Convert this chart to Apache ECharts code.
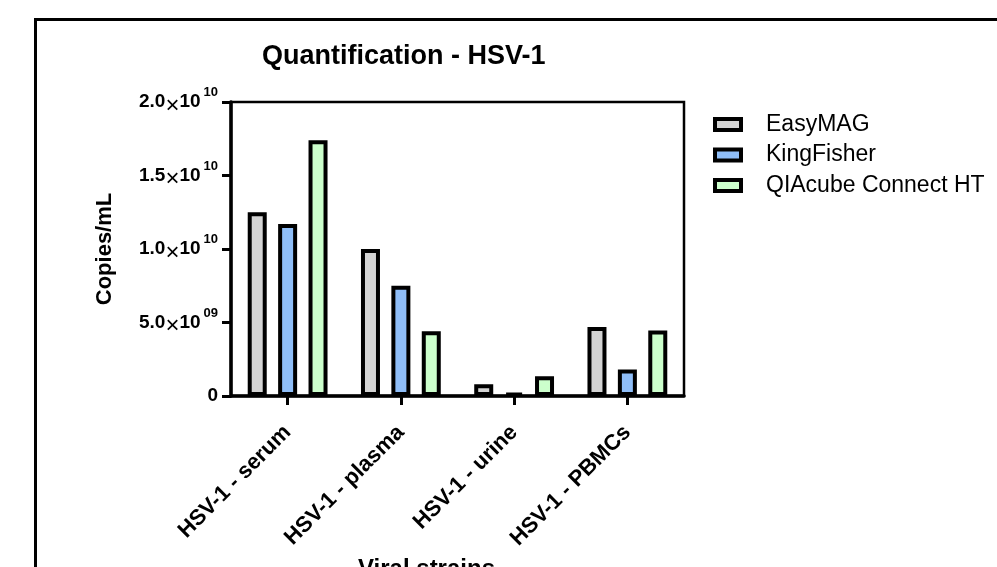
<!DOCTYPE html>
<html>
<head>
<meta charset="utf-8">
<script src="https://cdn.jsdelivr.net/npm/echarts@6/dist/echarts.min.js"></script>
<style>
html,body{margin:0;padding:0;background:#fff;}
#chart{width:997px;height:567px;}
</style>
</head>
<body>
<div id="chart"></div>
<script>
var categories = ["HSV-1 - serum", "HSV-1 - plasma", "HSV-1 - urine", "HSV-1 - PBMCs"];
var easyMAG = [1.25e10, 1.0e10, 8.0e8, 4.7e9];
var kingFisher = [1.17e10, 7.5e9, 2.0e8, 1.8e9];
var qiacube = [1.74e10, 4.4e9, 1.35e9, 4.45e9];
var seriesNames = ["EasyMAG", "KingFisher", "QIAcube Connect HT"];
var yTicks = [0, 5e9, 1e10, 1.5e10, 2e10];

var FONT = "Liberation Sans";
var chart = echarts.init(document.getElementById('chart'), null, {renderer: 'canvas'});

function fmtY(v) {
  if (v === 0) return '{m|0}';
  var e = Math.floor(Math.log10(v) + 1e-9);
  var m = v / Math.pow(10, e);
  var es = (e < 10 ? '0' : '') + e;
  return '{m|' + m.toFixed(1) + '}{x|×}{m|10}{s|' + es + '}';
}

var barStyle = function (color) {
  return {color: color, borderColor: '#000', borderWidth: 4};
};

chart.setOption({
  animation: false,
  backgroundColor: '#fff',
  title: {
    text: 'Quantification - HSV-1',
    left: 257, top: 38,
    textStyle: {fontFamily: FONT, fontWeight: 'bold', fontSize: 27, color: '#000'}
  },
  legend: {
    orient: 'vertical',
    left: 708, top: 108,
    itemWidth: 26, itemHeight: 11, itemGap: 7.5,
    icon: 'rect',
    data: seriesNames,
    itemStyle: {borderWidth: 4, borderColor: '#000'},
    textStyle: {fontFamily: FONT, fontSize: 23, color: '#000', padding: [0, 0, 0, 20]}
  },
  grid: {
    left: 231, right: 313, top: 102, bottom: 171,
    outerBoundsMode: 'none',
    containLabel: false,
    show: true, borderColor: '#000', borderWidth: 2.5, backgroundColor: 'transparent'
  },
  xAxis: {
    type: 'category',
    data: categories,
    name: 'Viral strains',
    nameLocation: 'middle',
    nameGap: 153,
    nameTextStyle: {fontFamily: FONT, fontWeight: 'bold', fontSize: 24, color: '#000', padding: [0, 62, 0, 0]},
    axisLine: {lineStyle: {color: '#000', width: 3.5}},
    axisTick: {show: true, alignWithLabel: true, length: 9, lineStyle: {color: '#000', width: 3}},
    axisLabel: {interval: 0, rotate: 45, margin: 33, fontFamily: FONT, fontWeight: 'bold', fontSize: 22, color: '#000'},
    splitLine: {show: false}
  },
  yAxis: {
    type: 'value',
    min: 0, max: 2e10, interval: 5e9,
    name: 'Copies/mL',
    nameLocation: 'middle',
    nameRotate: 90,
    nameGap: 115,
    nameTextStyle: {fontFamily: FONT, fontWeight: 'bold', fontSize: 22, color: '#000'},
    axisLine: {show: true, lineStyle: {color: '#000', width: 3.5}},
    axisTick: {show: true, length: 9, lineStyle: {color: '#000', width: 3}},
    splitLine: {show: false},
    axisLabel: {
      margin: 13,
      formatter: fmtY,
      rich: {
        m: {fontFamily: FONT, fontWeight: 'bold', fontSize: 19, color: '#000'},
        x: {fontFamily: FONT, fontWeight: 'normal', fontSize: 24, color: '#000', padding: [8, 0, 0, 0]},
        s: {fontFamily: FONT, fontWeight: 'bold', fontSize: 13, color: '#000', verticalAlign: 'top', padding: [0, 0, 10, 3]}
      }
    }
  },
  series: [
    {name: seriesNames[0], type: 'bar', data: easyMAG, barWidth: 19, barGap: '60%', itemStyle: barStyle('#D3D3D3')},
    {name: seriesNames[1], type: 'bar', data: kingFisher, barWidth: 19, barGap: '60%', itemStyle: barStyle('#8FBEF8')},
    {name: seriesNames[2], type: 'bar', data: qiacube, barWidth: 19, barGap: '60%', itemStyle: barStyle('#CCFFCC')}
  ],
  graphic: [{
    type: 'rect',
    silent: true,
    shape: {x: 35.5, y: 19.5, width: 1000, height: 600},
    style: {fill: 'none', stroke: '#000', lineWidth: 3}
  }]
});
</script>
</body>
</html>
